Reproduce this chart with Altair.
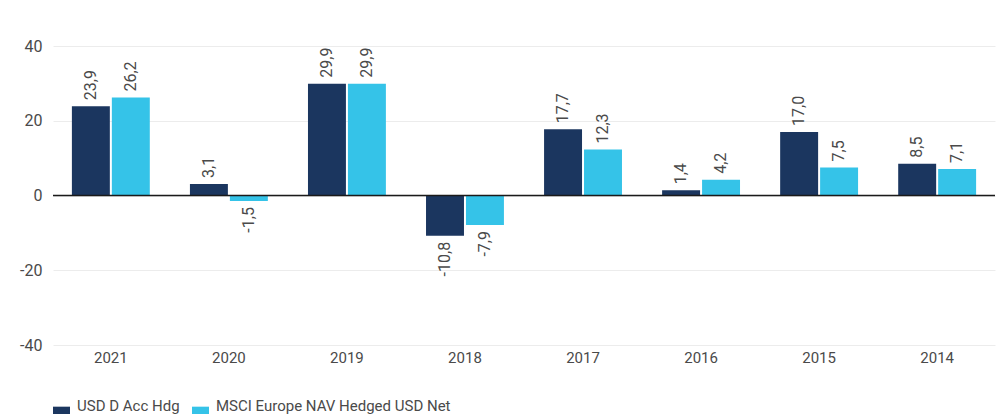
import altair as alt
import pandas as pd

years = ["2021", "2020", "2019", "2018", "2017", "2016", "2015", "2014"]
series_names = ["USD D Acc Hdg", "MSCI Europe NAV Hedged USD Net"]
fund = [23.9, 3.1, 29.9, -10.8, 17.7, 1.4, 17.0, 8.5]
index = [26.2, -1.5, 29.9, -7.9, 12.3, 4.2, 7.5, 7.1]
colors = ["#1b365f", "#35c3e8"]
y_ticks = [-40, -20, 0, 20, 40]

rows = []
for i, y in enumerate(years):
    for name, vals in zip(series_names, [fund, index]):
        v = vals[i]
        rows.append({"year": y, "series": name, "value": v,
                     "label": f"{v:.1f}".replace(".", ",")})
df = pd.DataFrame(rows)

FONT = "Roboto"
TXT = "#4a4a4a"

x_enc = alt.X("year:N", sort=years,
              scale=alt.Scale(paddingInner=0.34, paddingOuter=0.16),
              axis=alt.Axis(title=None, labelAngle=0, ticks=False, domain=False,
                            labelPadding=5, labelFontSize=15, labelColor=TXT,
                            labelFont=FONT, grid=False))
xo_enc = alt.XOffset("series:N", sort=series_names,
                     scale=alt.Scale(paddingInner=0.05))
y_enc = alt.Y("value:Q",
              scale=alt.Scale(domain=[-40, 40], nice=False),
              axis=alt.Axis(title=None, values=y_ticks, ticks=False, domain=False,
                            labelPadding=11, labelFontSize=16, labelColor=TXT,
                            labelFont=FONT, grid=True, gridColor="#ececec",
                            gridWidth=1,
                            labelExpr="datum.value < 0 ? '-' + abs(datum.value) : '' + datum.value"))

base = alt.Chart(df).encode(x=x_enc, xOffset=xo_enc)

bars = base.mark_bar().encode(
    y=y_enc,
    color=alt.Color("series:N", sort=series_names,
                    scale=alt.Scale(domain=series_names, range=colors),
                    legend=alt.Legend(title=None, orient="none", legendX=0, legendY=351,
                                      direction="horizontal",
                                      symbolType="M-1,0.1L1,0.1L1,2.1L-1,2.1Z",
                                      symbolSize=289, symbolStrokeWidth=0,
                                      labelFontSize=15, labelFont=FONT, labelLimit=400,
                                      labelColor=TXT, columnPadding=12,
                                      labelOffset=7, symbolOffset=0))
)

pos_labels = base.transform_filter(alt.datum.value >= 0).mark_text(
    angle=270, align="left", baseline="middle", dx=6,
    fontSize=16, font=FONT, color=TXT
).encode(y="value:Q", text="label:N")

neg_labels = base.transform_filter(alt.datum.value < 0).mark_text(
    angle=270, align="right", baseline="middle", dx=-6,
    fontSize=16, font=FONT, color=TXT
).encode(y="value:Q", text="label:N")

zero = alt.Chart(pd.DataFrame({"z": [0]})).mark_rule(
    color="#1a1a1a", strokeWidth=1.6
).encode(y="z:Q")

chart = alt.layer(bars, pos_labels, neg_labels, zero).properties(
    width=942, height=299,
    autosize=alt.AutoSizeParams(type="none"),
    padding={"left": 53, "top": 46, "right": 1, "bottom": 69},
).configure_view(stroke=None)

chart.save("out.html", embed_options={"renderer": "svg", "actions": False})
